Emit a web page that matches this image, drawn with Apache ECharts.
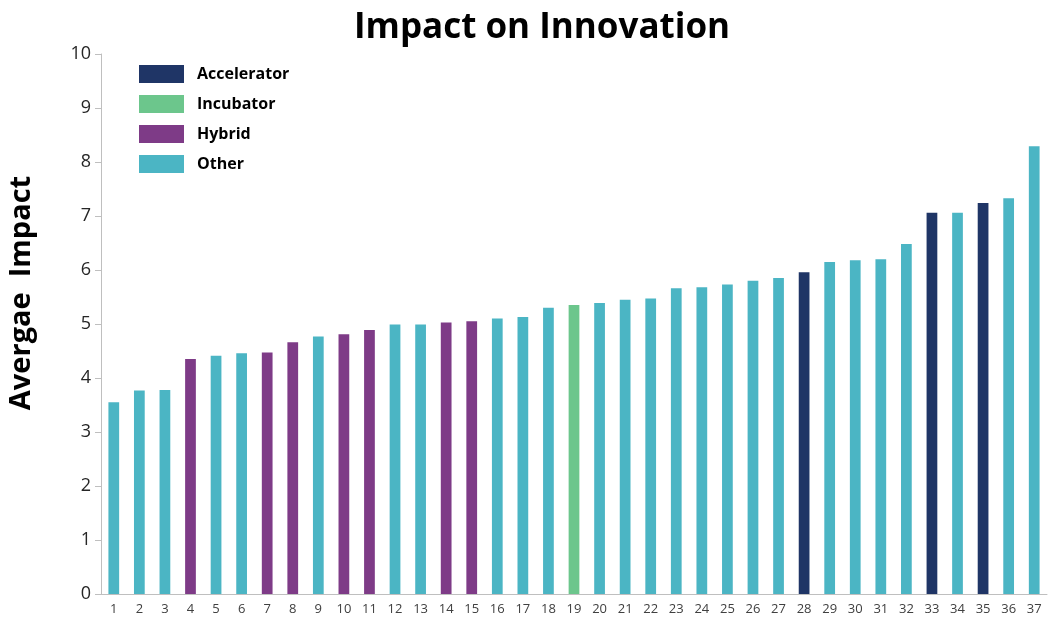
<!DOCTYPE html>
<html>
<head>
<meta charset="utf-8">
<script src="https://cdn.jsdelivr.net/npm/echarts@6/dist/echarts.min.js"></script>
<style>
  html, body { margin: 0; padding: 0; background: #fff; }
  #chart { width: 1050px; height: 623px; }
</style>
</head>
<body>
<div id="chart"></div>
<script>
// data
var categories = [];
for (var i = 1; i <= 37; i++) categories.push(String(i));

var values = [3.55, 3.77, 3.78, 4.35, 4.41, 4.46, 4.47, 4.66, 4.77, 4.81,
              4.89, 4.99, 4.99, 5.03, 5.05, 5.10, 5.13, 5.30, 5.35, 5.39,
              5.45, 5.47, 5.66, 5.68, 5.73, 5.80, 5.85, 5.96, 6.15, 6.18,
              6.20, 6.48, 7.06, 7.06, 7.24, 7.33, 8.29];

// type of each bar: A = Accelerator, I = Incubator, H = Hybrid, O = Other
var types = ['O','O','O','H','O','O','H','H','O','H',
             'H','O','O','H','H','O','O','O','I','O',
             'O','O','O','O','O','O','O','A','O','O',
             'O','O','A','O','A','O','O'];

var groups = [
  { key: 'A', name: 'Accelerator', color: '#1f3566' },
  { key: 'I', name: 'Incubator', color: '#6cc68c' },
  { key: 'H', name: 'Hybrid', color: '#7e3b87' },
  { key: 'O', name: 'Other', color: '#4bb5c4' }
];

var series = groups.map(function (g) {
  return {
    name: g.name,
    type: 'bar',
    stack: 'all',
    barWidth: '42%',
    itemStyle: { color: g.color },
    data: values.map(function (v, i) { return types[i] === g.key ? v : '-'; })
  };
});

var chart = echarts.init(document.getElementById('chart'));
chart.setOption({
  animation: false,
  title: {
    text: 'Impact on Innovation',
    left: 537,
    textAlign: 'center',
    top: 6,
    textStyle: { fontFamily: 'Open Sans', fontWeight: 'bold', fontSize: 35, color: '#000' }
  },
  legend: {
    orient: 'vertical',
    left: 134,
    top: 60,
    itemWidth: 45,
    itemHeight: 18,
    itemGap: 12,
    icon: 'rect',
    textStyle: { fontFamily: 'Open Sans', fontWeight: 'bold', fontSize: 16, color: '#000', padding: [0, 0, 0, 8] },
    data: groups.map(function (g) { return g.name; })
  },
  graphic: [{
    type: 'text',
    x: 22,
    y: 293,
    rotation: Math.PI / 2,
    style: {
      text: 'Avergae  Impact',
      fontFamily: 'Open Sans',
      fontWeight: 'bold',
      fontSize: 29,
      fill: '#000',
      align: 'center',
      verticalAlign: 'middle'
    }
  }],
  grid: { left: 101, right: 3, top: 54, bottom: 29 },
  xAxis: {
    type: 'category',
    data: categories,
    axisLine: { lineStyle: { color: '#bfbfbf' } },
    axisTick: { alignWithLabel: false, length: 6, lineStyle: { color: '#bfbfbf' } },
    axisLabel: { interval: 0, fontFamily: 'Open Sans', fontSize: 13, color: '#404040', margin: 9 }
  },
  yAxis: {
    type: 'value',
    min: 0,
    max: 10,
    interval: 1,
    axisLine: { show: true, lineStyle: { color: '#bfbfbf' } },
    axisTick: { show: true, length: 6, lineStyle: { color: '#bfbfbf' } },
    axisLabel: { fontFamily: 'Open Sans', fontSize: 18, color: '#262626', margin: 10 },
    splitLine: { show: false }
  },
  series: series
});
</script>
</body>
</html>
